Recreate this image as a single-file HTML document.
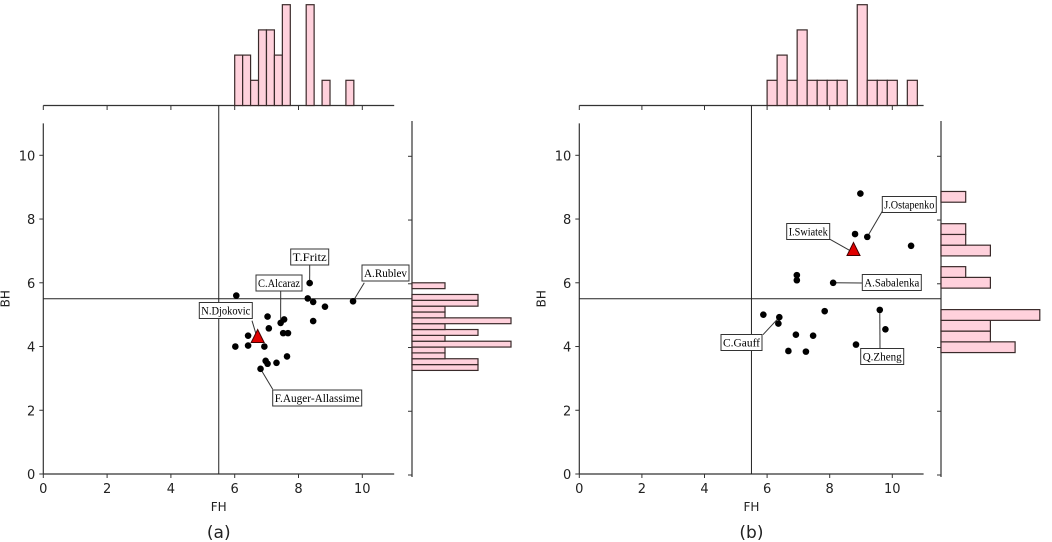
<!DOCTYPE html>
<html><head><meta charset="utf-8"><style>
html,body{margin:0;padding:0;background:#fff;}
svg{display:block;}
.tk{font-family:"DejaVu Sans","Liberation Sans",sans-serif;font-size:13px;fill:#222;}
.lb{font-family:"Liberation Serif",serif;font-size:12px;fill:#000;}
</style></head><body>
<svg id="c" width="1052" height="542" viewBox="0 0 1052 542" xmlns="http://www.w3.org/2000/svg"></svg>
<script>
// Panel (a) data
const aFH = [6.05,6.42,6.42,6.02,6.93,7.03,7.07,7.44,7.55,7.52,7.67,7.64,7.31,7.03,6.97,6.81,8.35,8.29,8.46,8.83,8.46,9.71];
const aBH = [5.6,4.34,4.03,4.0,4.0,4.94,4.57,4.74,4.85,4.42,4.42,3.69,3.49,3.46,3.55,3.30,5.99,5.51,5.40,5.25,4.80,5.42];
const aStar = [6.72,4.22];
const aTopCounts = [2,2,1,3,3,2,4,0,0,4,0,1,0,0,1];
const aRightCounts = [2,2,1,1,3,1,2,1,3,1,1,2,2,0,1];
const aLabels = ["T.Fritz","C.Alcaraz","A.Rublev","N.Djokovic","F.Auger-Allassime"];
// Panel (b) data
const bFH = [8.98,8.81,9.20,10.6,6.95,6.95,8.11,5.88,6.39,6.36,7.84,9.60,9.78,6.92,7.47,6.68,7.24,8.84];
const bBH = [8.80,7.53,7.44,7.16,6.24,6.08,6.0,5.0,4.92,4.72,5.11,5.15,4.54,4.37,4.34,3.86,3.84,4.06];
const bStar = [8.76,6.95];
const bTopCounts = [1,2,1,3,1,1,1,1,0,4,1,1,1,0,1];
const bRightCounts = [3,2,2,4,0,0,2,1,0,2,1,1,0,0,1];
const bLabels = ["J.Ostapenko","I.Swiatek","A.Sabalenka","C.Gauff","Q.Zheng"];
const xTicks = [0,2,4,6,8,10];
const yTicks = [0,2,4,6,8,10];

const NS="http://www.w3.org/2000/svg";
const svg=document.getElementById('c');
function mk(tag,attrs,parent){const e=document.createElementNS(NS,tag);for(const k in attrs)e.setAttribute(k,attrs[k]);(parent||svg).appendChild(e);return e;}

function panel(cfg){
  const g=mk('g',{});
  
  
  const X0=cfg.x0, XS=cfg.xs, Y0=474, YS=31.87;
  const sx=v=>X0+v*XS, sy=v=>Y0-v*YS;
  const right=sx(11), top=sy(11);
  let ax=mk('line',{x1:X0,y1:Y0,x2:right,y2:Y0,stroke:'#333','stroke-width':1.2},g);
  
  ax=mk('line',{x1:X0,y1:top,x2:X0,y2:Y0,stroke:'#333','stroke-width':1.2},g);
  
  xTicks.forEach(t=>{
    mk('line',{x1:sx(t),y1:Y0,x2:sx(t),y2:Y0+4,stroke:'#333'},g);
    const tx=mk('text',{x:sx(t),y:Y0+19,'text-anchor':'middle',class:'tk'},g);tx.textContent=t;
    
    mk('line',{x1:sx(t),y1:105.5,x2:sx(t),y2:110,stroke:'#333'},g);
  });
  const hx=cfg.hx;
  yTicks.forEach(t=>{
    mk('line',{x1:X0-4,y1:sy(t),x2:X0,y2:sy(t),stroke:'#333'},g);
    const tx=mk('text',{x:X0-8,y:sy(t)+5,'text-anchor':'end',class:'tk'},g);tx.textContent=t;
    
    mk('line',{x1:hx-4,y1:sy(t)+1,x2:hx,y2:sy(t)+1,stroke:'#333'},g);
  });
  let t=mk('text',{x:sx(5.5),y:Y0+37,'text-anchor':'middle',class:'tk'},g);t.textContent='FH';
  t.style.fontSize='12px';
  
  t=mk('text',{x:0,y:0,'text-anchor':'middle',class:'tk',transform:`translate(${X0-34},${sy(5.5)}) rotate(-90)`},g);t.textContent='BH';
  t.style.fontSize='12px';
  
  t=mk('text',{x:sx(5.5),y:538,'text-anchor':'middle',class:'tk'},g);t.textContent=cfg.caption;
  t.style.fontSize='17px';
  
  mk('line',{x1:X0,y1:105.5,x2:right,y2:105.5,stroke:'#333','stroke-width':1.2},g);
  mk('line',{x1:hx,y1:121,x2:hx,y2:477,stroke:'#333','stroke-width':1.2},g);
  let rl=mk('line',{x1:sx(5.5),y1:105.5,x2:sx(5.5),y2:Y0,stroke:'#222','stroke-width':1},g);
  
  rl=mk('line',{x1:X0,y1:sy(5.5),x2:hx,y2:sy(5.5),stroke:'#222','stroke-width':1},g);
  
  cfg.topCounts.forEach((c,i)=>{
    if(!c)return;
    const xa=sx(cfg.topStart+i*cfg.topW), xb=sx(cfg.topStart+(i+1)*cfg.topW);
    const r=mk('rect',{x:xa,y:105.5-c*25.2,width:xb-xa,height:c*25.2,fill:'#ffd1dc',stroke:'#3a2a2a','stroke-width':1.2},g);
    
  });
  cfg.rightCounts.forEach((c,i)=>{
    if(!c)return;
    const ya=sy(cfg.rStart+(i+1)*cfg.rW), yb=sy(cfg.rStart+i*cfg.rW);
    const r=mk('rect',{x:hx,y:ya,width:c*cfg.rPx,height:yb-ya,fill:'#ffd1dc',stroke:'#3a2a2a','stroke-width':1.2},g);
    
  });
  cfg.labels.forEach((L,i)=>{
    const p=L.pt==='star'?cfg.star:[cfg.fh[L.pt],cfg.bh[L.pt]];
    mk('line',{x1:L.lx,y1:L.ly,x2:sx(p[0]),y2:sy(p[1]),stroke:'#333','stroke-width':1},g);
  });
  cfg.fh.forEach((v,i)=>{
    const c=mk('circle',{cx:sx(v),cy:sy(cfg.bh[i]),r:3.3,fill:'#000'},g);
    
  });
  const s=cfg.star, px=sx(s[0]), py=sy(s[1]);
  const tri=mk('polygon',{points:`${px},${py-10} ${px-6.5},${py+3} ${px+6.5},${py+3}`,fill:'#e00000',stroke:'#400','stroke-width':1},g);
  
  cfg.labels.forEach((L,i)=>{
    const r=mk('rect',{x:L.bx,y:L.by,width:L.bw,height:16,fill:'#fff',stroke:'#333','stroke-width':1},g);
    
    const tx=mk('text',{x:L.bx+L.bw/2,y:L.by+12,'text-anchor':'middle',class:'lb',textLength:L.bw-4,lengthAdjust:'spacingAndGlyphs'},g);tx.textContent=cfg.names[i];
    
  });
}

panel({name:'panel-a',caption:'(a)',x0:43.3,xs:31.9,hx:412,fh:aFH,bh:aBH,star:aStar,
  topCounts:aTopCounts,topStart:6.0,topW:0.249,rightCounts:aRightCounts,rStart:3.25,rW:0.1833,rPx:33,
  names:aLabels,labels:[
    {pt:16,lx:309.7,ly:260,bx:290.7,by:249,bw:38},
    {pt:7,lx:280.7,ly:290.7,bx:256,by:275,bw:46},
    {pt:21,lx:364.3,ly:282.7,bx:362,by:265,bw:47},
    {pt:'star',lx:252,ly:320.7,bx:199.3,by:302.5,bw:53},
    {pt:15,lx:272.7,ly:389.3,bx:272.7,by:390,bw:89}
  ]});
panel({name:'panel-b',caption:'(b)',x0:579.3,xs:31.3,hx:941,fh:bFH,bh:bBH,star:bStar,
  topCounts:bTopCounts,topStart:6.0,topW:0.32,rightCounts:bRightCounts,rStart:3.81,rW:0.337,rPx:24.7,
  names:bLabels,labels:[
    {pt:2,lx:882.3,ly:211.3,bx:882.3,by:196.5,bw:54},
    {pt:'star',lx:830,ly:239.3,bx:786.7,by:223.5,bw:43},
    {pt:6,lx:862.3,ly:283,bx:862.3,by:274.5,bw:59},
    {pt:8,lx:763,ly:334.7,bx:721,by:334.5,bw:41},
    {pt:11,lx:880,ly:348.3,bx:860.7,by:348.5,bw:43}
  ]});
</script>
</body></html>
